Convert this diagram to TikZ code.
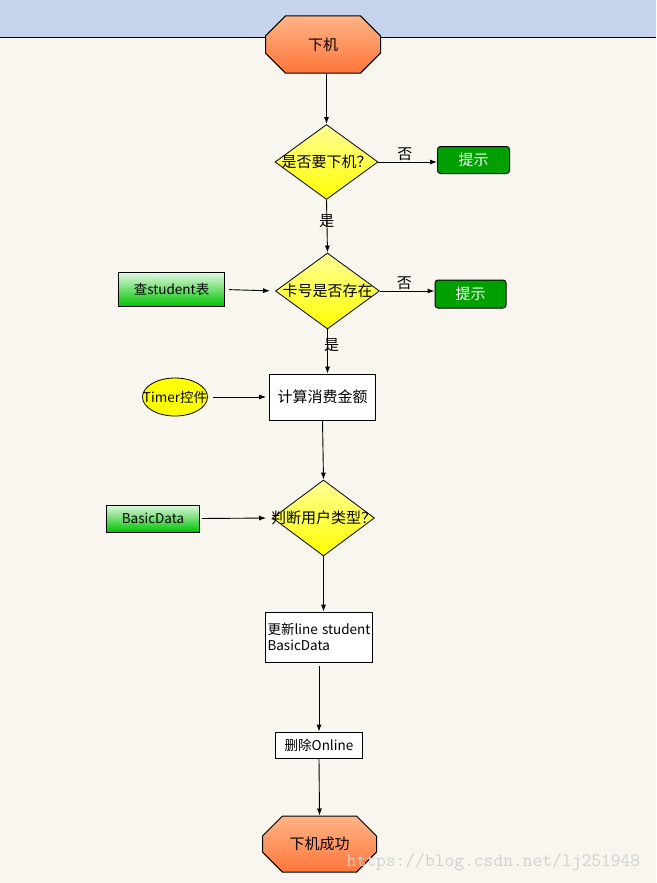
\documentclass[tikz,border=0pt]{standalone}
\usepackage{fontspec}
\setmainfont{Noto Sans CJK SC}
\usetikzlibrary{shapes.geometric,shapes.misc,arrows.meta}
\definecolor{band}{RGB}{197,211,236}
\definecolor{paper}{RGB}{249,246,240}
\definecolor{termtop}{RGB}{255,180,135}
\definecolor{termbot}{RGB}{255,118,58}
\definecolor{asktop}{RGB}{255,255,150}
\definecolor{askbot}{RGB}{255,255,0}
\definecolor{dbtop}{RGB}{225,248,225}
\definecolor{dbbot}{RGB}{0,195,0}
\definecolor{tipgreen}{RGB}{0,160,0}
\begin{document}
\begin{tikzpicture}[x=1pt,y=-1pt,
    every node/.style={font=\fontsize{15}{18}\selectfont},
    term/.style={chamfered rectangle, chamfered rectangle xsep=18pt, chamfered rectangle ysep=13pt,
        draw, line width=1pt, top color=termtop, bottom color=termbot,
        minimum width=115pt, minimum height=57pt, inner sep=0pt},
    ask/.style={diamond, draw, line width=0.8pt, top color=asktop, bottom color=askbot,
        minimum width=103pt, minimum height=75pt, inner sep=0pt},
    tip/.style={draw, line width=1pt, fill=tipgreen, text=white, rounded corners=3pt,
        minimum width=72pt, minimum height=27pt, inner sep=0pt},
    db/.style={draw, line width=1pt, top color=dbtop, bottom color=dbbot,
        minimum height=27pt, inner sep=0pt, font=\fontsize{13.5}{15}\selectfont},
    work/.style={draw, line width=0.8pt, fill=white, inner sep=0pt},
    flow/.style={-{Latex[length=7pt,width=5pt]}, line width=0.9pt}]
    \fill[paper] (0,0) rectangle (655,883);
    \fill[band] (0,0) rectangle (655,37);
    \draw[line width=1pt] (0,37.5) -- (655,37.5);

    \node[term] (start) at (322.5,44.5) {下机};
    \node[ask, label=center:{是否要下机？}] (q1) at (326,162) {};
    \node[tip] (tip1) at (473,160) {提示};
    \node[ask, minimum width=104pt, minimum height=76pt, label=center:{卡号是否存在}] (q2) at (327,291) {};
    \node[tip, minimum width=71pt, minimum height=28pt] (tip2) at (470,294) {提示};
    \node[db, minimum width=106pt, minimum height=34pt] (query) at (171,289.5) {查student表};
    \node[work, minimum width=106pt, minimum height=46pt] (calc) at (322,397) {计算消费金额};
    \node[ellipse, draw, line width=0.8pt, fill=askbot, minimum width=65pt, minimum height=38pt,
        inner sep=0pt, label=center:{\fontsize{13.5}{15}\selectfont Timer控件}] (timer) at (174.5,397) {};
    \node[ask, minimum width=102pt, minimum height=76pt, label=center:{判断用户类型？}] (q3) at (323,518) {};
    \node[db, minimum width=93pt] (basic) at (152.5,518.5) {BasicData};
    \node[work, minimum width=107pt, minimum height=50pt, text width=103pt, align=left,
        font=\fontsize{13.5}{16}\selectfont] (update) at (318.5,637) {更新line\hfill student\\BasicData};
    \node[work, minimum width=87pt, minimum height=26pt, font=\fontsize{13.5}{15}\selectfont] (del) at (318.5,745) {删除Online};
    \node[term, minimum width=114pt, minimum height=56pt] (stop) at (319,844) {下机成功};
    \node[font=\ttfamily\fontsize{19}{20}\selectfont, text=black!18] (mark) at (493,862) {https://blog.csdn.net/lj251948};

    \draw[flow] (q1.north |- start.south) -- (q1.north);
    \draw[flow] (q1.east) -- node[above, inner sep=1pt, pos=.45] {否} (q1.east -| tip1.west);
    \draw[flow] (q1.south) -- node[pos=.4] {是} (q2.north);
    \draw[flow] (q2.east) -- node[above, inner sep=1pt, pos=.45] {否} (q2.east -| tip2.west);
    \draw[flow, shorten <=4pt, shorten >=5pt] (query.east) -- (q2.west);
    \draw[flow] (q2.south) -- node[pos=.36, xshift=4pt] {是} (q2.south |- calc.north);
    \draw[flow, shorten <=5pt, shorten >=3pt] (timer.east) -- (calc.west);
    \draw[flow] (calc.south) -- (q3.north);
    \draw[flow, shorten <=2pt, shorten >=6pt] (basic.east) -- (q3.west);
    \draw[flow] (q3.south) -- (q3.south |- update.north);
    \draw[flow, shorten <=4pt] (update.south) -- (del.north);
    \draw[flow] (del.south) -- (stop.north);
\end{tikzpicture}
\end{document}
